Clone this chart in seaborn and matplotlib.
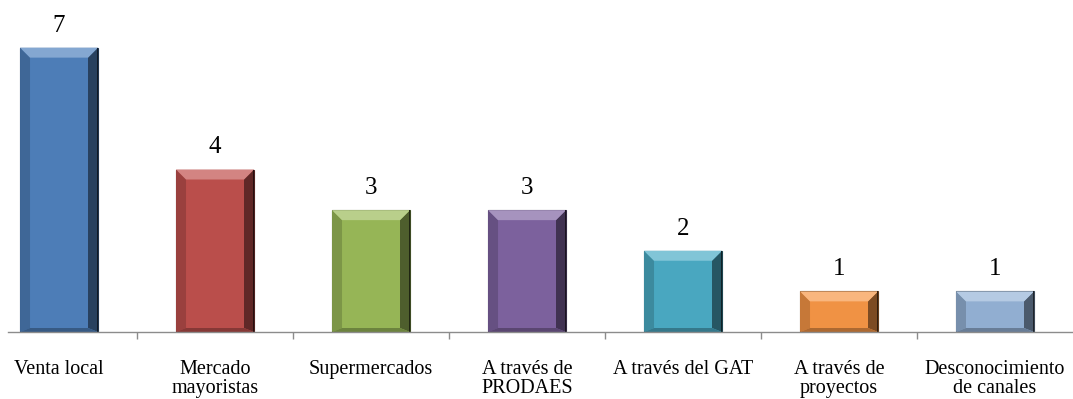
import numpy as np
import pandas as pd
import seaborn as sns
import matplotlib.pyplot as plt
from matplotlib.patches import Polygon
from matplotlib.colors import to_rgb

# chart data
categories = ['Venta local', 'Mercado\nmayoristas', 'Supermercados', 'A través de\nPRODAES',
              'A través del GAT', 'A través de\nproyectos', 'Desconocimiento\nde canales']
values = [7, 4, 3, 3, 2, 1, 1]
colors = ['#4F81BD', '#C0504D', '#9BBB59', '#8064A2', '#4BACC6', '#F79646', '#95B3D7']

df = pd.DataFrame({'canal': categories, 'n': values})

sns.set_style('white')
plt.rcParams['font.family'] = ['Liberation Serif', 'DejaVu Serif']

fig = plt.figure(figsize=(10.73, 3.99), dpi=100)
ax = fig.add_axes([8 / 1073, 67 / 399, 1 - 8 / 1073, 325 / 399])

sns.barplot(data=df, x='canal', y='n', hue='canal', palette=colors, legend=False,
            width=0.5, saturation=1, ax=ax)

ax.set_xlim(-0.327, 6.5)
ax.set_ylim(0, 8)
ax.set_xlabel('')
ax.set_ylabel('')
ax.set_yticks([])
for s in ['top', 'right', 'left']:
    ax.spines[s].set_visible(False)
ax.spines['bottom'].set_color('#8C8C8C')
ax.spines['bottom'].set_linewidth(1)

# ticks between categories
ax.set_xticks(np.arange(len(categories)))
ax.set_xticklabels(categories, fontsize=14.5, linespacing=1.0, color='black')
ax.set_xticks(np.arange(len(categories) - 1) + 0.5, minor=True)
ax.tick_params(axis='x', which='major', length=0, pad=20)
ax.tick_params(axis='x', which='minor', length=5, color='#8C8C8C', width=1, bottom=True)

fig.canvas.draw()


def shade(c, f):
    r = np.array(to_rgb(c))
    if f > 0:
        return tuple(r + (1 - r) * f)
    return tuple(r * (1 + f))


bars = sorted([p for p in ax.patches if p.get_height() > 0], key=lambda p: p.get_x())

# bevel look on each bar
inv = ax.transData.inverted()
p0 = inv.transform((0, 0))
p1 = inv.transform((10, 10))
bx, by = p1 - p0
for patch, c, v in zip(bars, colors, values):
    x0, y0 = patch.get_x(), patch.get_y()
    w, h = patch.get_width(), patch.get_height()
    x1, y1 = x0 + w, y0 + h
    patch.set_facecolor(shade(c, -0.03))
    patch.set_edgecolor(shade(c, -0.6))
    patch.set_linewidth(0.8)
    top = [(x0, y1), (x1, y1), (x1 - bx, y1 - by), (x0 + bx, y1 - by)]
    left = [(x0, y0), (x0, y1), (x0 + bx, y1 - by), (x0 + bx, y0 + by * 0.4)]
    right = [(x1, y0), (x1, y1), (x1 - bx, y1 - by), (x1 - bx, y0 + by * 0.4)]
    bottom = [(x0, y0), (x1, y0), (x1 - bx, y0 + by * 0.4), (x0 + bx, y0 + by * 0.4)]
    ax.add_patch(Polygon(left, closed=True, fc=shade(c, -0.2), ec='none'))
    ax.add_patch(Polygon(right, closed=True, fc=shade(c, -0.5), ec='none'))
    ax.add_patch(Polygon(bottom, closed=True, fc=shade(c, -0.3), ec='none'))
    ax.add_patch(Polygon(top, closed=True, fc=shade(c, 0.3), ec='none'))
    ax.add_patch(Polygon([(x1 - 0.15 * bx, y0), (x1, y0), (x1, y1), (x1 - 0.15 * bx, y1)],
                         closed=True, fc=shade(c, -0.8), ec='none'))
    ax.annotate(str(v), (x0 + w / 2, y1), xytext=(0, 8), textcoords='offset points',
                ha='center', va='bottom', fontsize=18, color='black')

plt.savefig('out.png', dpi=100)
